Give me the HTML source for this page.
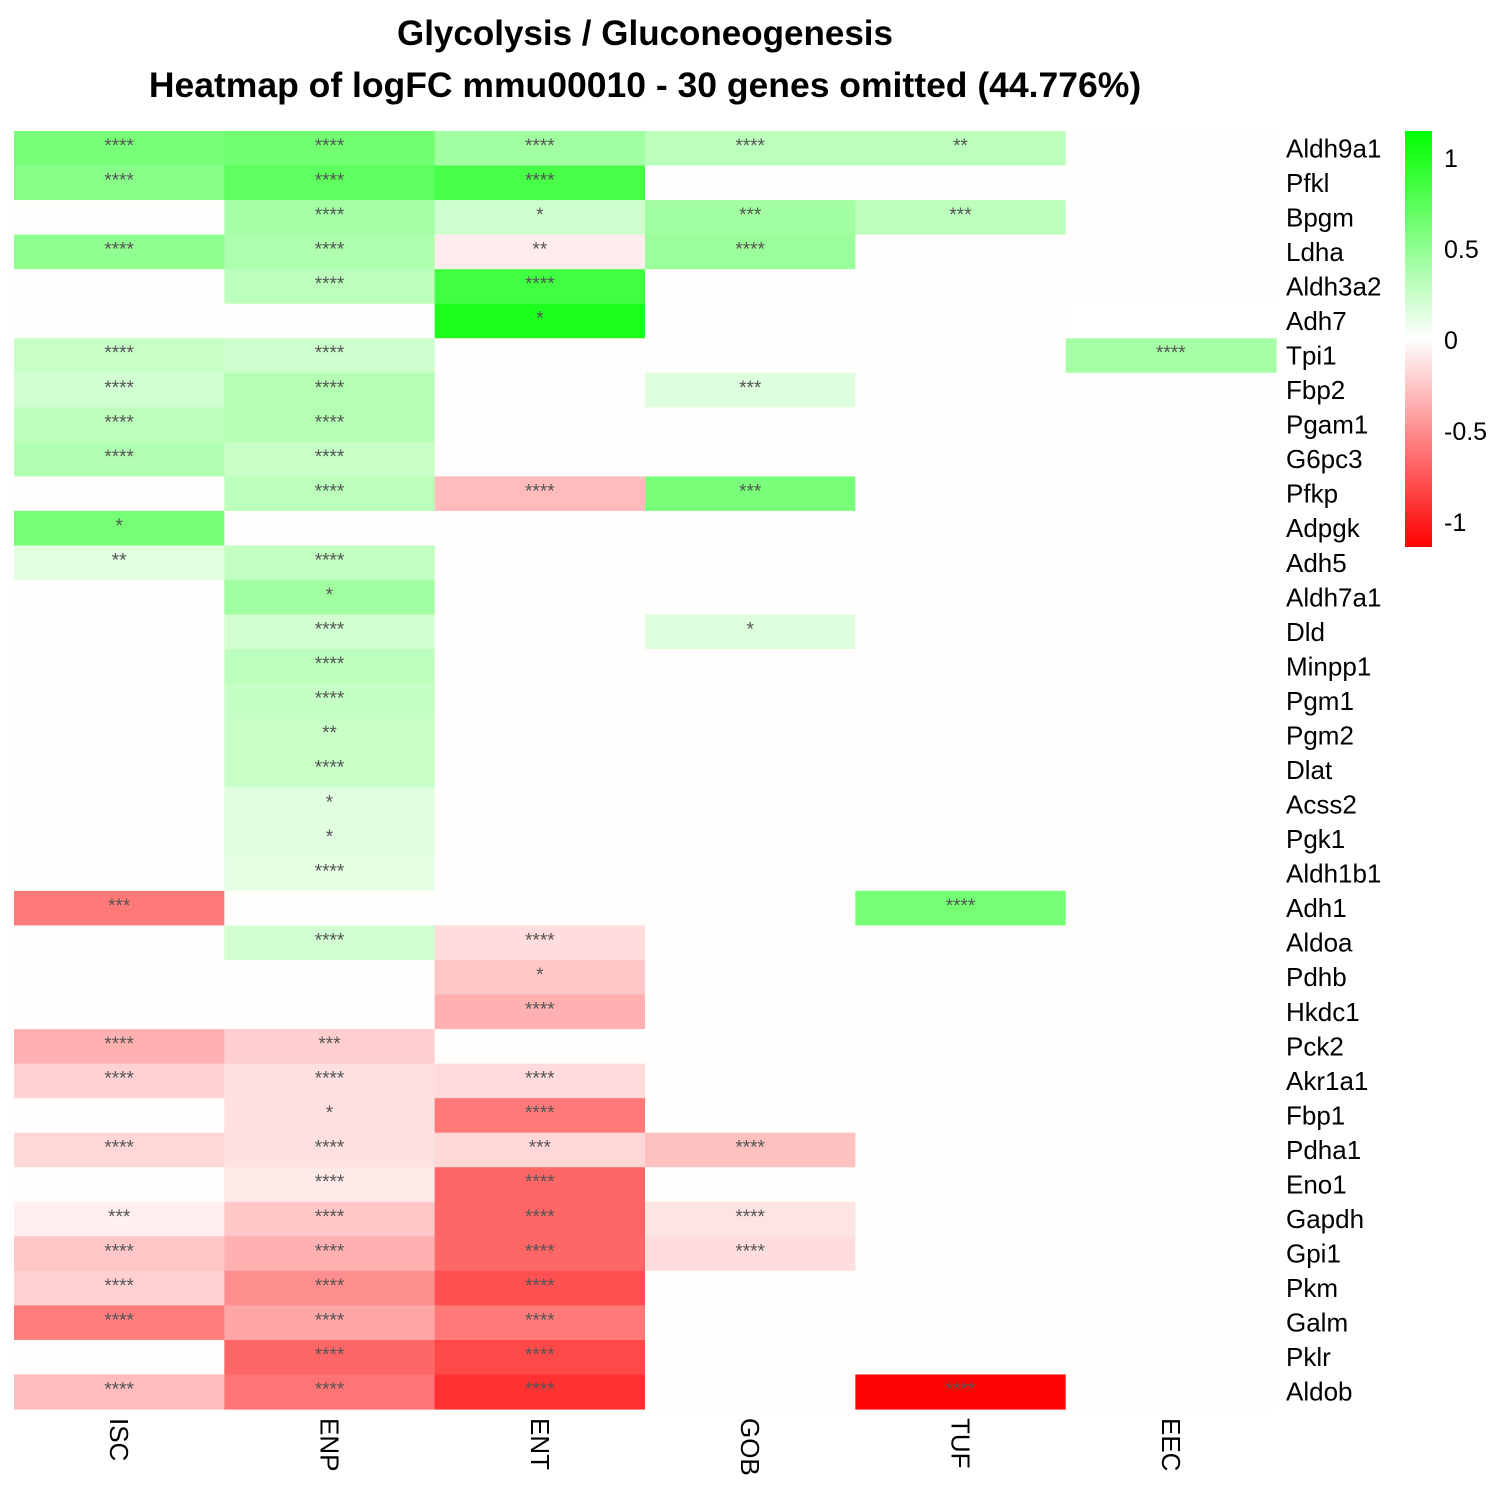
<!DOCTYPE html>
<html><head><meta charset="utf-8"><style>
body{margin:0;background:#fff;}
svg{display:block;font-family:"Liberation Sans",Arial,sans-serif;}
</style></head><body>
<svg id="chart" width="1500" height="1500" xmlns="http://www.w3.org/2000/svg">
<rect x="0" y="0" width="1500" height="1500" fill="#ffffff"/>
<text x="645" y="45" text-anchor="middle" font-size="35" font-weight="bold">Glycolysis / Gluconeogenesis</text>
<text x="645" y="97" text-anchor="middle" font-size="35.5" font-weight="bold">Heatmap of logFC mmu00010 - 30 genes omitted (44.776%)</text>
<defs><linearGradient id="lg" x1="0" y1="0" x2="0" y2="1">
<stop offset="0" stop-color="#00ff00"/><stop offset="0.5" stop-color="#ffffff"/><stop offset="1" stop-color="#ff0000"/>
</linearGradient></defs>
<g id="cells"></g>
<g id="labels"></g>
<rect x="1405" y="131" width="27" height="416" fill="url(#lg)"/>
<g id="legend"></g>
</svg>
<script>
const columns = ["ISC","ENP","ENT","GOB","TUF","EEC"];
const genes = ["Aldh9a1","Pfkl","Bpgm","Ldha","Aldh3a2","Adh7","Tpi1","Fbp2","Pgam1","G6pc3","Pfkp","Adpgk","Adh5","Aldh7a1","Dld","Minpp1","Pgm1","Pgm2","Dlat","Acss2","Pgk1","Aldh1b1","Adh1","Aldoa","Pdhb","Hkdc1","Pck2","Akr1a1","Fbp1","Pdha1","Eno1","Gapdh","Gpi1","Pkm","Galm","Pklr","Aldob"];
const N = null;
const values = [
[0.61,0.63,0.42,0.3,0.3,N],
[0.53,0.72,0.82,N,N,N],
[N,0.4,0.22,0.42,0.3,N],
[0.5,0.36,-0.08,0.45,N,N],
[N,0.3,0.85,N,N,N],
[N,N,1.0,N,N,0.0],
[0.25,0.22,N,N,N,0.4],
[0.2,0.33,N,0.15,N,N],
[0.3,0.33,N,N,N,N],
[0.35,0.25,N,N,N,N],
[N,0.3,-0.3,0.6,N,N],
[0.62,N,N,N,N,N],
[0.13,0.28,N,N,N,N],
[N,0.42,N,N,N,N],
[N,0.2,N,0.15,N,N],
[N,0.3,N,N,N,N],
[N,0.26,N,N,N,N],
[N,0.25,N,N,N,N],
[N,0.25,N,N,N,N],
[N,0.14,N,N,N,N],
[N,0.14,N,N,N,N],
[N,0.12,N,N,N,N],
[-0.6,N,N,N,0.62,N],
[N,0.2,-0.15,N,N,N],
[N,N,-0.25,N,N,N],
[N,N,-0.35,N,N,N],
[-0.35,-0.22,N,N,N,N],
[-0.2,-0.14,-0.16,N,N,N],
[N,-0.14,-0.6,N,N,N],
[-0.18,-0.14,-0.18,-0.28,N,N],
[N,-0.1,-0.68,N,N,N],
[-0.07,-0.25,-0.68,-0.12,N,N],
[-0.25,-0.35,-0.68,-0.15,N,N],
[-0.2,-0.5,-0.78,N,N,N],
[-0.58,-0.4,-0.6,N,N,N],
[N,-0.68,-0.82,N,N,N],
[-0.3,-0.62,-0.92,N,-1.12,N]
];
const stars = [
["****","****","****","****","**",""],
["****","****","****","","",""],
["","****","*","***","***",""],
["****","****","**","****","",""],
["","****","****","","",""],
["","","*","","",""],
["****","****","","","","****"],
["****","****","","***","",""],
["****","****","","","",""],
["****","****","","","",""],
["","****","****","***","",""],
["*","","","","",""],
["**","****","","","",""],
["","*","","","",""],
["","****","","*","",""],
["","****","","","",""],
["","****","","","",""],
["","**","","","",""],
["","****","","","",""],
["","*","","","",""],
["","*","","","",""],
["","****","","","",""],
["***","","","","****",""],
["","****","****","","",""],
["","","*","","",""],
["","","****","","",""],
["****","***","","","",""],
["****","****","****","","",""],
["","*","****","","",""],
["****","****","***","****","",""],
["","****","****","","",""],
["***","****","****","****","",""],
["****","****","****","****","",""],
["****","****","****","","",""],
["****","****","****","","",""],
["","****","****","","",""],
["****","****","****","","****",""]
];
const legendTicks = [1,0.5,0,-0.5,-1];

const NS="http://www.w3.org/2000/svg";
const X0=14,X1=1276,Y0=131,Y1=1409,VMAX=1.14;
const cw=(X1-X0)/columns.length, rh=(Y1-Y0)/genes.length;
function colorOf(v){
  if(v===null) return "#fffefc";
  const t=Math.min(1,Math.abs(v)/VMAX); const c=Math.round(255*(1-t));
  return v>=0?`rgb(${c},255,${c})`:`rgb(255,${c},${c})`;
}
const cells=document.getElementById('cells'), labels=document.getElementById('labels');
genes.forEach((g,i)=>{
  columns.forEach((c,j)=>{
    const r=document.createElementNS(NS,'rect');
    r.setAttribute('x',X0+j*cw);r.setAttribute('y',Y0+i*rh);
    r.setAttribute('width',cw+0.6);r.setAttribute('height',rh+0.6);
    r.setAttribute('fill',colorOf(values[i][j]));
    
    
    cells.appendChild(r);
    if(stars[i][j]){
      const t=document.createElementNS(NS,'text');
      t.setAttribute('x',X0+(j+0.5)*cw);t.setAttribute('y',Y0+i*rh+21);
      t.setAttribute('text-anchor','middle');t.setAttribute('font-size','19');t.setAttribute('fill','#555');
      t.textContent=stars[i][j];
      
      
      cells.appendChild(t);
    }
  });
  const t=document.createElementNS(NS,'text');
  t.setAttribute('x',1286);t.setAttribute('y',Y0+(i+0.5)*rh+9);t.setAttribute('font-size','26');
  t.textContent=g;
  
  
  labels.appendChild(t);
});
columns.forEach((c,j)=>{
  const t=document.createElementNS(NS,'text');
  const x=X0+(j+0.5)*cw-9;
  t.setAttribute('x',x);t.setAttribute('y',1418);t.setAttribute('font-size','26');
  t.setAttribute('transform',`rotate(90 ${x} 1418)`);
  t.textContent=c;
  
  
  labels.appendChild(t);
});
const lg=document.getElementById('legend');
legendTicks.forEach(v=>{
  const y=340-v*182;
  const t=document.createElementNS(NS,'text');
  t.setAttribute('x',1444);t.setAttribute('y',y+9);t.setAttribute('font-size','25');
  t.textContent=String(v);
  
  
  lg.appendChild(t);
});
</script>
</body></html>
